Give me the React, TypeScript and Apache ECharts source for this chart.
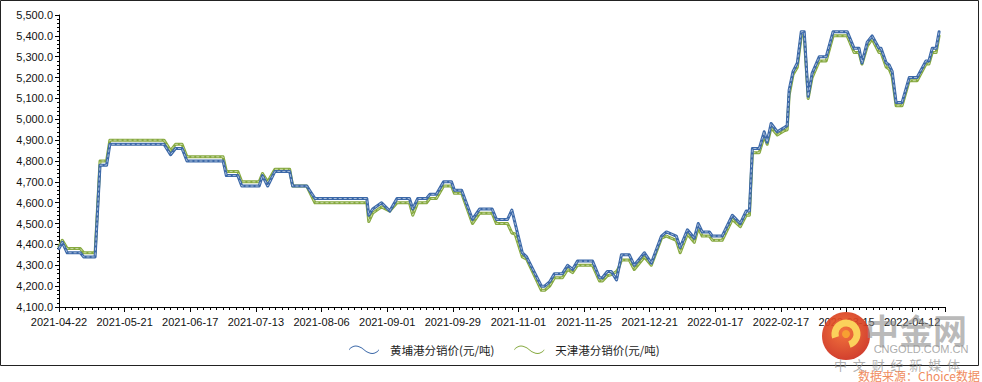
import React, { useEffect, useRef } from 'react';
import * as echarts from 'echarts';

const tickLabels = [
  '2021-04-22', '2021-05-21', '2021-06-17', '2021-07-13', '2021-08-06', '2021-09-01', '2021-09-29',
  '2021-11-01', '2021-11-25', '2021-12-21', '2022-01-17', '2022-02-17', '2022-03-15', '2022-04-12',
];

const huangpuName = '黄埔港分销价(元/吨)';
const tianjinName = '天津港分销价(元/吨)';

// [trading-day index, price]
const huangpu: [number, number][] = [
  [0, 4380], [1, 4410], [2.5, 4360], [6.5, 4360], [7.5, 4340], [11, 4340], [12.5, 4780], [14.5, 4780],
  [15.5, 4880], [32, 4880], [34, 4830], [35.5, 4860], [37.5, 4860], [39, 4800], [50, 4800], [51, 4730],
  [54.5, 4730], [55.7, 4680], [61, 4680], [62, 4730], [63.6, 4680], [65.8, 4750], [70.3, 4750], [71.2, 4680],
  [75.5, 4680], [78, 4620], [93.8, 4620], [94.4, 4540], [95.6, 4570], [98.3, 4600], [100.8, 4560], [103, 4620],
  [106.8, 4620], [107.8, 4570], [109.3, 4620], [112, 4620], [113, 4640], [115, 4640], [117.2, 4700], [119.6, 4700],
  [120.5, 4660], [122.7, 4660], [126, 4520], [128.2, 4570], [132, 4570], [133.3, 4520], [136.7, 4520], [138, 4565],
  [141.2, 4360], [142.5, 4340], [147, 4200], [148, 4200], [149.5, 4220], [151, 4260], [153.4, 4260], [155, 4300],
  [156.5, 4280], [158, 4320], [162.6, 4320], [164.7, 4240], [165.6, 4240], [167.1, 4270], [168.3, 4270], [169.9, 4230],
  [171.4, 4350], [173.8, 4350], [175.3, 4300], [178.4, 4360], [180.5, 4310], [183.6, 4440], [185.1, 4460], [188.1, 4440],
  [189.3, 4385], [191.5, 4470], [193.6, 4430], [194.8, 4500], [196, 4460], [198.2, 4460], [199.1, 4440], [202.1, 4440],
  [205.2, 4540], [207.6, 4500], [209.4, 4560], [210.4, 4560], [211.3, 4860], [213.4, 4860], [214.9, 4940], [215.8, 4890],
  [217, 4980], [218.9, 4940], [221, 4960], [221.9, 4970], [222.5, 5140], [223.7, 5230], [225, 5270], [226.2, 5420],
  [227.1, 5420], [228.3, 5110], [229.5, 5220], [231.7, 5300], [233.8, 5300], [235.9, 5420], [240.2, 5420], [242.3, 5340],
  [243.8, 5340], [244.7, 5270], [246.3, 5370], [247.8, 5400], [249.9, 5340], [250.5, 5340], [252.1, 5270], [253, 5260],
  [253.9, 5230], [255.1, 5080], [256.9, 5080], [259.1, 5200], [261.5, 5200], [264.2, 5280], [265.1, 5280], [266.1, 5340],
  [267.3, 5340], [268.2, 5420],
];

const tianjin: [number, number][] = [
  [0, 4390], [1, 4420], [2.5, 4380], [6.5, 4380], [7.5, 4360], [11, 4360], [12.5, 4800], [14.5, 4800],
  [15.5, 4900], [32, 4900], [34, 4850], [35.5, 4880], [37.5, 4880], [39, 4820], [50, 4820], [51, 4750],
  [54.5, 4750], [55.7, 4700], [61, 4700], [62, 4740], [63.6, 4700], [65.8, 4760], [70.3, 4760], [71.2, 4680],
  [75.5, 4680], [78, 4600], [93.8, 4600], [94.4, 4510], [95.6, 4550], [98.3, 4580], [100.8, 4560], [103, 4600],
  [106.8, 4600], [107.8, 4540], [109.3, 4600], [112, 4600], [113, 4620], [115, 4620], [117.2, 4680], [119.6, 4680],
  [120.5, 4645], [122.7, 4645], [126, 4500], [128.2, 4550], [132, 4550], [133.3, 4500], [136.7, 4500], [138, 4455],
  [139, 4450], [141.2, 4340], [142.5, 4330], [147, 4180], [148, 4180], [149.5, 4200], [151, 4240], [153.4, 4240],
  [155, 4280], [156.5, 4265], [158, 4300], [162.6, 4300], [164.7, 4225], [165.6, 4225], [167.1, 4250], [168.3, 4255],
  [169.9, 4270], [170.5, 4285], [171.4, 4325], [173.8, 4325], [175.3, 4280], [178.4, 4340], [180.5, 4300], [183.6, 4430],
  [185.1, 4440], [188.1, 4420], [189.3, 4360], [191.5, 4450], [193.6, 4410], [194.8, 4480], [196, 4440], [198.2, 4440],
  [199.1, 4420], [202.1, 4420], [205.2, 4520], [207.6, 4485], [209.4, 4540], [210.4, 4540], [211.3, 4840], [213.4, 4840],
  [214.9, 4920], [215.8, 4880], [217, 4960], [218.9, 4925], [221, 4945], [221.9, 4950], [222.5, 5115], [223.7, 5215],
  [225, 5250], [226.2, 5400], [227.1, 5400], [228.3, 5100], [229.5, 5200], [231.7, 5280], [233.8, 5280], [235.9, 5400],
  [240.2, 5400], [242.3, 5320], [243.8, 5320], [244.7, 5265], [246.3, 5350], [247.8, 5385], [249.9, 5320], [250.5, 5320],
  [252.1, 5250], [253, 5240], [253.9, 5205], [255.1, 5065], [256.9, 5065], [259.1, 5185], [261.5, 5185], [264.2, 5265],
  [265.1, 5265], [266.1, 5320], [267.3, 5320], [268.2, 5400],
];

const BLUE = '#3B68A8';
const GREEN = '#86A93F';
const FONT = '"Liberation Sans", Arial, sans-serif';
const WAVE = 'path://M0,5 C4,0 9,0 15,5 C21,10 26,10 30,5 L30,6.2 C26,11.2 21,11.2 15,6.2 C9,1.2 4,1.2 0,6.2 Z';

export default function App() {
  const ref = useRef<HTMLDivElement>(null);
  useEffect(() => {
    document.body.style.margin = '0';
    if (!ref.current) return;
    const chart = echarts.init(ref.current, undefined, { renderer: 'svg' });
    const mainLine = (name: string, data: [number, number][], color: string) => ({
      name, type: 'line', data, color, symbol: 'none', showSymbol: false,
      lineStyle: { color, width: 3, join: 'round', cap: 'round' },
    });
    const overlay = (name: string, data: [number, number][]) => ({
      name, type: 'line', data, symbol: 'none', silent: true, legendHoverLink: false,
      lineStyle: { color: 'rgba(255,255,255,0.7)', width: 0.8, type: [3, 2] },
    });
    chart.setOption({
      animation: false,
      grid: { left: 59, top: 15, right: 37, bottom: 75 },
      legend: {
        data: [
          { name: huangpuName, icon: WAVE },
          { name: tianjinName, icon: WAVE },
        ],
        top: 339, left: 344, itemWidth: 30, itemHeight: 11, itemGap: 20,
        textStyle: { fontFamily: '"Noto Sans CJK SC", sans-serif', fontSize: 11.5, color: '#222', padding: [0, 0, 0, 6] },
      },
      xAxis: {
        type: 'value', min: 0, max: 270, interval: 20,
        axisLine: { show: true, lineStyle: { color: '#000' } },
        axisTick: { show: true, length: 5, lineStyle: { color: '#000' } },
        minorTick: { show: true, splitNumber: 10, length: 3, lineStyle: { color: '#000' } },
        splitLine: { show: false },
        axisLabel: {
          margin: 9, fontFamily: FONT, fontSize: 11, color: '#111', showMaxLabel: false,
          formatter: (v: number) => tickLabels[Math.round(v / 20)] ?? '',
        },
      },
      yAxis: {
        type: 'value', min: 4100, max: 5500, interval: 100,
        axisLine: { show: true, lineStyle: { color: '#000' } },
        axisTick: { show: true, length: 4, lineStyle: { color: '#000' } },
        minorTick: { show: true, splitNumber: 5, length: 2, lineStyle: { color: '#000' } },
        splitLine: { show: false },
        axisLabel: {
          margin: 6, fontFamily: FONT, fontSize: 11, color: '#111',
          formatter: (v: number) => v.toLocaleString('en-US', { minimumFractionDigits: 1, maximumFractionDigits: 1 }),
        },
      },
      series: [
        mainLine(tianjinName, tianjin, GREEN),
        overlay('tj-hl', tianjin),
        mainLine(huangpuName, huangpu, BLUE),
        overlay('hp-hl', huangpu),
      ],
      graphic: [
        { type: 'rect', shape: { x: 0.5, y: 0.5, width: 978, height: 365 }, style: { fill: 'none', stroke: '#222', lineWidth: 1 }, z: 0 },
        {
          type: 'circle', shape: { cx: 846, cy: 336, r: 24 }, z: 100,
          style: {
            fill: new echarts.graphic.RadialGradient(0.45, 0.4, 0.7, [
              { offset: 0, color: '#F2692C' }, { offset: 1, color: '#C8261A' },
            ]),
            opacity: 0.92,
          },
        },
        { type: 'arc', shape: { cx: 846, cy: 334, r: 11, startAngle: Math.PI * 0.9, endAngle: Math.PI * 2.4 }, style: { stroke: '#FBD15B', lineWidth: 7, fill: 'none' }, z: 101 },
        { type: 'circle', shape: { cx: 846, cy: 334, r: 4 }, style: { fill: '#F7A032' }, z: 102 },
        { type: 'text', x: 916, y: 329, z: 100, style: { text: '中金网', font: 'bold 34px "Noto Sans CJK SC", sans-serif', fill: 'rgba(140,140,140,0.6)', align: 'center', verticalAlign: 'middle' } },
        { type: 'text', x: 921, y: 349, z: 100, style: { text: 'CNGOLD.COM.CN', font: '11px "Liberation Sans", Arial, sans-serif', fill: 'rgba(150,150,150,0.8)', align: 'center', verticalAlign: 'middle' } },
        { type: 'text', x: 897, y: 364, z: 100, style: { text: '中  文  财  经  新  媒  体', font: '13px "Noto Sans CJK SC", sans-serif', fill: 'rgba(150,150,150,0.75)', align: 'center', verticalAlign: 'middle' } },
        { type: 'text', x: 980, y: 375, z: 100, style: { text: '数据来源：Choice数据', font: '12px "Noto Sans CJK SC", sans-serif', fill: '#F08C5E', align: 'right', verticalAlign: 'middle' } },
      ],
    });
    return () => chart.dispose();
  }, []);
  return <div ref={ref} style={{ width: 982, height: 382 }} />;
}
